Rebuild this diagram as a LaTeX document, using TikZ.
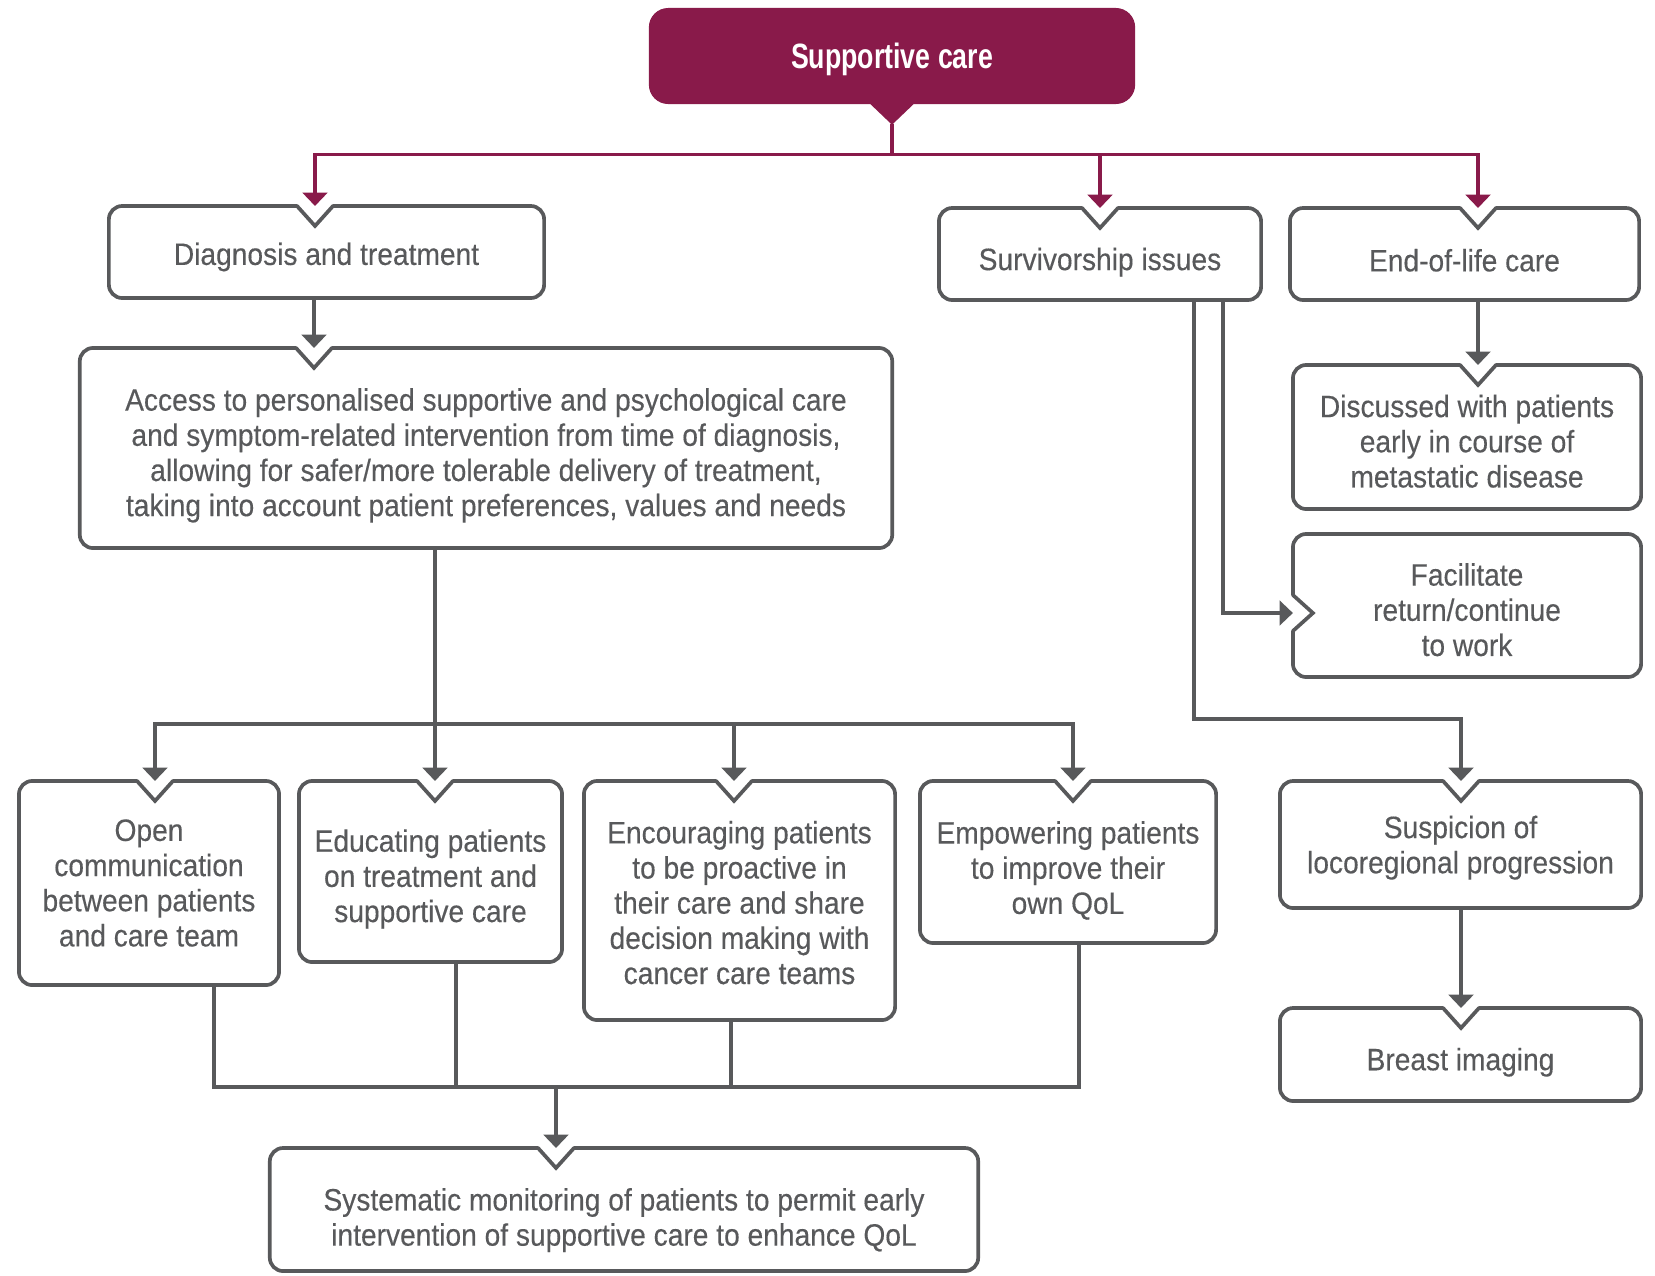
\documentclass[tikz,border=0pt]{standalone}
\usepackage{fontspec}
\setmainfont{Liberation Sans}[FakeStretch=0.91, FakeBold=0.3]
\newfontfamily\titlefont{Liberation Sans}[FakeStretch=0.76]
\usetikzlibrary{arrows.meta, calc}
\definecolor{scmaroon}{RGB}{137,26,74}
\definecolor{scgray}{RGB}{88,89,91}

% box outline with a notch in the top edge at x = #2
\newcommand{\topnotch}[2]{%
  \draw[boxline, rounded corners=3.8pt] ($(#1.north -| #2,0)+(18,0)$) -- (#1.north east) -- (#1.south east) -- (#1.south west) -- (#1.north west) -- ($(#1.north -| #2,0)+(-18,0)$);
  \draw[boxline] ($(#1.north -| #2,0)+(-18,0)$) -- ($(#1.north -| #2,0)+(0,20)$) -- ($(#1.north -| #2,0)+(18,0)$);
}
% box outline with a notch in the left edge at y = #2
\newcommand{\leftnotch}[2]{%
  \draw[boxline, rounded corners=3.8pt] ($(#1.west |- 0,#2)+(0,-18)$) -- (#1.north west) -- (#1.north east) -- (#1.south east) -- (#1.south west) -- ($(#1.west |- 0,#2)+(0,18)$);
  \draw[boxline] ($(#1.west |- 0,#2)+(0,-18)$) -- ($(#1.west |- 0,#2)+(20,0)$) -- ($(#1.west |- 0,#2)+(0,18)$);
}

\begin{document}
\begin{tikzpicture}[
    x=0.01cm, y=-0.01cm,
    box/.style={inner sep=0pt, outer sep=0pt},
    every label/.style={text=scgray, align=center, inner sep=0pt, font=\fontsize{8.8}{10}\selectfont},
    boxline/.style={draw=scgray, line width=1.05pt, line cap=round, line join=miter},
    line/.style={draw=scgray, line width=0.95pt},
    arr/.style={line, -{Triangle[width=7pt,length=3.8pt]}},
    mline/.style={draw=scmaroon, line width=0.95pt},
    marr/.style={mline, -{Triangle[width=7pt,length=3.8pt]}}
]
\useasboundingbox (0,0) rectangle (1655,1275);

% top
\node[fill=scmaroon, rounded corners=5.5pt, minimum width=4.86cm, minimum height=0.96cm, text=white,
      font={\titlefont\bfseries\fontsize{10}{12}\selectfont}] (sc) at (892,56) {\raisebox{-0.9pt}[\height][\depth]{Supportive care}};
\fill[scmaroon] ($(sc.south)+(-22,-1)$) -- ($(sc.south)+(0,20)$) -- ($(sc.south)+(22,-1)$) -- cycle;
\coordinate (hub) at ($(sc.south)+(0,50)$);
\draw[mline] ($(sc.south)+(0,19)$) -- (hub);

% first level
\node[box, minimum width=4.35cm, minimum height=0.92cm, label={[yshift=-1.4pt]center:{Diagnosis and treatment}}] (diag) at (326.5,252) {};
\node[box, minimum width=3.22cm, minimum height=0.92cm, label={[yshift=-2.3pt]center:{Survivorship issues}}] (surv) at (1100,254) {};
\node[box, minimum width=3.49cm, minimum height=0.92cm, label={[yshift=-1.8pt]center:{End-of-life care}}] (eol) at (1464.5,254) {};
\topnotch{diag}{315}
\topnotch{surv}{1100}
\topnotch{eol}{1478}
\draw[marr] (hub) -| (diag.north -| 315,0);
\draw[marr] (hub) -| (surv.north);
\draw[marr] (hub) -| (eol.north -| 1478,0);

% diagnosis branch
\node[box, minimum width=8.12cm, minimum height=2.00cm, label={[yshift=-2.1pt]center:{Access to personalised supportive and psychological care\\and symptom-related intervention from time of diagnosis,\\allowing for safer/more tolerable delivery of treatment,\\taking into account patient preferences, values and needs}}] (access) at (486,448) {};
\topnotch{access}{314}
\draw[arr] (diag.south -| 314,0) -- (access.north -| 314,0);

\node[box, minimum width=2.60cm, minimum height=2.04cm, label={[yshift=0pt]center:{Open\\communication\\between patients\\and care team}}] (open) at (149,883) {};
\node[box, minimum width=2.63cm, minimum height=1.81cm, label={[yshift=-2.1pt]center:{Educating patients\\on treatment and\\supportive care}}] (edu) at (430.5,871.5) {};
\node[box, minimum width=3.11cm, minimum height=2.39cm, label={[yshift=-0.6pt]center:{Encouraging patients\\to be proactive in\\their care and share\\decision making with\\cancer care teams}}] (enc) at (739.5,900.5) {};
\node[box, minimum width=2.96cm, minimum height=1.62cm, label={[yshift=-2.4pt]center:{Empowering patients\\to improve their\\own QoL}}] (emp) at (1068,862) {};
\topnotch{open}{155}
\topnotch{edu}{435}
\topnotch{enc}{734}
\topnotch{emp}{1073}

\coordinate (split) at (435,724);
\draw[line] (access.south -| split) -- (split);
\draw[arr] (split) -| (open.north -| 155,0);
\draw[arr] (split) -- (edu.north -| split);
\draw[arr] (split) -| (enc.north -| 734,0);
\draw[arr] (split) -| (emp.north -| 1073,0);

\node[box, minimum width=7.08cm, minimum height=1.23cm, label={[yshift=-3pt]center:{Systematic monitoring of patients to permit early\\intervention of supportive care to enhance QoL}}] (sys) at (624,1209.5) {};
\topnotch{sys}{556}
\coordinate (join) at (556,1087);
\draw[line] (open.south -| 214,0) |- (join);
\draw[line] (edu.south -| 456,0) |- (join);
\draw[line] (enc.south -| 731,0) |- (join);
\draw[line] (emp.south -| 1079,0) |- (join);
\draw[arr] (join) -- (sys.north -| join);

% right column
\node[box, minimum width=3.48cm, minimum height=1.44cm, label={[yshift=-1.2pt]center:{Discussed with patients\\early in course of\\metastatic disease}}] (disc) at (1467,437) {};
\node[box, minimum width=3.48cm, minimum height=1.43cm, label={[yshift=-1.2pt]center:{Facilitate\\return/continue\\to work}}] (fac) at (1467,605.5) {};
\node[box, minimum width=3.61cm, minimum height=1.27cm, label={[yshift=-0.9pt]center:{Suspicion of\\locoregional progression}}] (susp) at (1460.5,844.5) {};
\node[box, minimum width=3.61cm, minimum height=0.93cm, label={[yshift=-2.2pt]center:{Breast imaging}}] (breast) at (1460.5,1054.5) {};
\topnotch{disc}{1478}
\leftnotch{fac}{613}
\topnotch{susp}{1461}
\topnotch{breast}{1461}

\draw[arr] (eol.south -| 1478,0) -- (disc.north -| 1478,0);
\draw[arr] (surv.south -| 1223,0) |- (fac.west |- 0,613);
\draw[arr] (surv.south -| 1194,0) -- (1194,719) -| (susp.north -| 1461,0);
\draw[arr] (susp.south -| 1461,0) -- (breast.north -| 1461,0);
\end{tikzpicture}
\end{document}
